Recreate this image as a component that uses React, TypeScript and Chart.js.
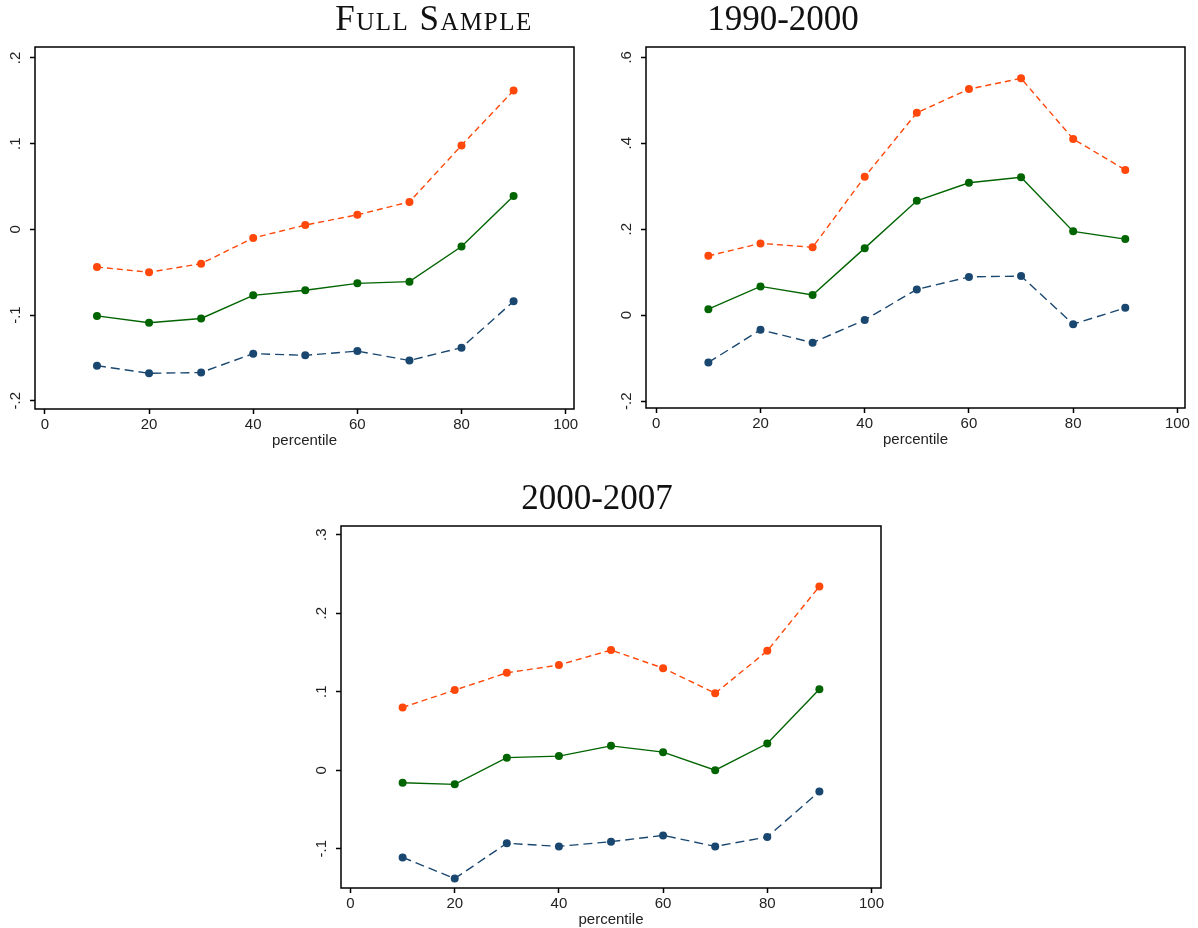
import React, { useEffect, useRef } from 'react';
import { Chart, registerables } from 'chart.js';

Chart.register(...registerables);

// ---------- data ----------
const percentiles = [10, 20, 30, 40, 50, 60, 70, 80, 90];
const xTicks = [0, 20, 40, 60, 80, 100];

const fullUpper = [-0.044, -0.05, -0.04, -0.01, 0.005, 0.017, 0.032, 0.098, 0.162];
const fullEstimate = [-0.101, -0.109, -0.104, -0.077, -0.071, -0.063, -0.061, -0.02, 0.039];
const fullLower = [-0.159, -0.168, -0.167, -0.145, -0.147, -0.142, -0.153, -0.138, -0.084];
const fullYTicks = [-0.2, -0.1, 0, 0.1, 0.2];

const p9000Upper = [0.138, 0.167, 0.158, 0.322, 0.471, 0.526, 0.551, 0.41, 0.338];
const p9000Estimate = [0.014, 0.067, 0.047, 0.156, 0.266, 0.308, 0.321, 0.195, 0.177];
const p9000Lower = [-0.11, -0.034, -0.064, -0.011, 0.06, 0.089, 0.091, -0.021, 0.017];
const p9000YTicks = [-0.2, 0, 0.2, 0.4, 0.6];

const p0007Upper = [0.08, 0.102, 0.124, 0.134, 0.153, 0.13, 0.098, 0.152, 0.234];
const p0007Estimate = [-0.016, -0.018, 0.016, 0.018, 0.031, 0.023, 0.0, 0.034, 0.103];
const p0007Lower = [-0.111, -0.138, -0.093, -0.097, -0.091, -0.083, -0.097, -0.085, -0.027];
const p0007YTicks = [-0.1, 0, 0.1, 0.2, 0.3];

const titles = ['Full Sample', '1990-2000', '2000-2007'];
const xTitle = 'percentile';

// ---------- style ----------
const RED = 'rgb(255,72,10)';
const GREEN = 'rgb(0,100,0)';
const NAVY = 'rgb(26,71,111)';
const TICK_FONT = { family: '"Liberation Sans", Arial, sans-serif', size: 15 };
const TEXT_COLOR = '#222';

const Y_AXIS_W = 45;
const X_AXIS_H = 48;
const PAD_TOP = 25;
const PAD_RIGHT = 14;

function fmt(v: number): string {
  if (Math.abs(v) < 1e-9) return '0';
  return v.toFixed(1).replace('0.', '.');
}

const boxPlugin = {
  id: 'stataBox',
  afterDraw(chart: any) {
    const { ctx, chartArea: a } = chart;
    ctx.save();
    ctx.strokeStyle = '#000';
    ctx.lineWidth = 1.5;
    ctx.strokeRect(a.left, a.top, a.right - a.left, a.bottom - a.top);
    ctx.restore();
  },
};

type PanelSpec = {
  box: { left: number; top: number; right: number; bottom: number };
  xRange: [number, number];
  yRange: [number, number];
  yTicks: number[];
  upper: number[];
  estimate: number[];
  lower: number[];
};

const panels: PanelSpec[] = [
  {
    box: { left: 35, top: 47, right: 574, bottom: 409 },
    xRange: [-1.9, 101.6],
    yRange: [-0.2096, 0.2128],
    yTicks: fullYTicks,
    upper: fullUpper,
    estimate: fullEstimate,
    lower: fullLower,
  },
  {
    box: { left: 646, top: 47, right: 1185, bottom: 408 },
    xRange: [-1.97, 101.46],
    yRange: [-0.216, 0.624],
    yTicks: p9000YTicks,
    upper: p9000Upper,
    estimate: p9000Estimate,
    lower: p9000Lower,
  },
  {
    box: { left: 341, top: 526, right: 881, bottom: 888 },
    xRange: [-1.83, 101.83],
    yRange: [-0.15, 0.311],
    yTicks: p0007YTicks,
    upper: p0007Upper,
    estimate: p0007Estimate,
    lower: p0007Lower,
  },
];

const titlePos = [
  { cx: 434, top: 1, smallCaps: true },
  { cx: 783, top: 1, smallCaps: false },
  { cx: 597, top: 480, smallCaps: false },
];

function toPoints(ys: number[]) {
  return percentiles.map((x, i) => ({ x, y: ys[i] }));
}

function Panel({ spec }: { spec: PanelSpec }) {
  const ref = useRef<HTMLCanvasElement>(null);
  const bw = spec.box.right - spec.box.left;
  const bh = spec.box.bottom - spec.box.top;
  const w = bw + Y_AXIS_W + PAD_RIGHT;
  const h = bh + PAD_TOP + X_AXIS_H;
  const left = spec.box.left - Y_AXIS_W;
  const top = spec.box.top - PAD_TOP;

  useEffect(() => {
    const canvas = ref.current!;
    const ds = (data: number[], color: string, dash: number[], width: number) => ({
      data: toPoints(data),
      borderColor: color,
      backgroundColor: color,
      borderWidth: width,
      borderDash: dash,
      pointRadius: 4,
      pointBorderWidth: 0,
      pointBackgroundColor: color,
      pointHoverRadius: 4,
      tension: 0,
      fill: false,
    });
    const chart = new Chart(canvas, {
      type: 'line',
      data: {
        datasets: [
          ds(spec.upper, RED, [6, 4], 1.4),
          ds(spec.estimate, GREEN, [], 1.4),
          ds(spec.lower, NAVY, [9, 5], 1.4),
        ],
      },
      options: {
        animation: false,
        responsive: false,
        devicePixelRatio: 1,
        layout: { padding: { top: PAD_TOP, right: PAD_RIGHT, left: 0, bottom: 0 } },
        plugins: { legend: { display: false }, tooltip: { enabled: false }, title: { display: false } },
        events: [],
        scales: {
          x: {
            type: 'linear',
            bounds: 'data',
            min: spec.xRange[0],
            max: spec.xRange[1],
            afterBuildTicks: (scale: any) => {
              scale.ticks = xTicks.map((v) => ({ value: v }));
            },
            afterFit: (scale: any) => {
              scale.height = X_AXIS_H;
            },
            grid: {
              drawOnChartArea: false,
              drawTicks: true,
              tickLength: 5,
              tickWidth: 1.5,
              tickColor: '#000',
              color: 'transparent',
            },
            border: { display: false },
            ticks: {
              autoSkip: false,
              maxRotation: 0,
              minRotation: 0,
              padding: 2,
              font: TICK_FONT,
              color: TEXT_COLOR,
              callback: (v: any) => String(v),
            },
            title: {
              display: true,
              text: xTitle,
              font: TICK_FONT,
              color: TEXT_COLOR,
              padding: { top: 0, bottom: 7 },
            },
          },
          y: {
            type: 'linear',
            bounds: 'data',
            min: spec.yRange[0],
            max: spec.yRange[1],
            afterBuildTicks: (scale: any) => {
              scale.ticks = spec.yTicks.map((v) => ({ value: v }));
            },
            afterFit: (scale: any) => {
              scale.width = Y_AXIS_W;
            },
            grid: {
              drawOnChartArea: false,
              drawTicks: true,
              tickLength: 5,
              tickWidth: 1.5,
              tickColor: '#000',
              color: 'transparent',
            },
            border: { display: false },
            ticks: {
              autoSkip: false,
              minRotation: 90,
              maxRotation: 90,
              crossAlign: 'center',
              padding: 5,
              font: TICK_FONT,
              color: TEXT_COLOR,
              callback: (v: any) => fmt(Number(v)),
            },
          },
        },
      },
      plugins: [boxPlugin],
    } as any);
    return () => chart.destroy();
  }, []);

  return (
    <canvas
      ref={ref}
      width={w}
      height={h}
      style={{ position: 'absolute', left, top, width: w, height: h }}
    />
  );
}

export default function App() {
  return (
    <div
      style={{
        position: 'absolute',
        left: 0,
        top: 0,
        width: 1198,
        height: 928,
        background: '#fff',
        overflow: 'hidden',
      }}
    >
      {panels.map((p, i) => (
        <Panel key={i} spec={p} />
      ))}
      {titles.map((t, i) => (
        <div
          key={t}
          style={{
            position: 'absolute',
            left: titlePos[i].cx - 200,
            top: titlePos[i].top,
            width: 400,
            textAlign: 'center',
            fontFamily: '"Liberation Serif", "Times New Roman", serif',
            fontSize: 35,
            lineHeight: '35px',
            color: '#111',
            fontVariant: titlePos[i].smallCaps ? 'small-caps' : 'normal',
            letterSpacing: titlePos[i].smallCaps ? 1.5 : 0,
            whiteSpace: 'nowrap',
          }}
        >
          {t}
        </div>
      ))}
    </div>
  );
}
